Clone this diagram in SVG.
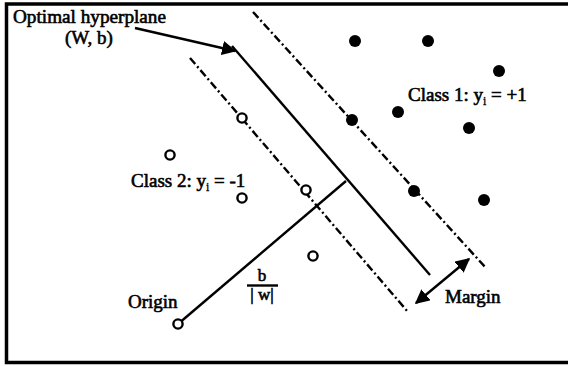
<svg xmlns="http://www.w3.org/2000/svg" width="568" height="366" viewBox="0 0 568 366">
<defs>
<style>
text{font-family:"Liberation Serif","Times New Roman",serif;font-size:19px;fill:#000;stroke:#000;stroke-width:0.6}
.sub{font-size:12px}
.frac{font-size:17px}
.solid{stroke:#000;stroke-width:2.4;fill:none}
.dash{stroke:#000;stroke-width:2.4;fill:none;stroke-dasharray:8 3 2 3}
.c1{fill:#000}
.c2{fill:#fff;stroke:#000;stroke-width:2.4}
</style>
<marker id="ah" viewBox="0 0 10 10" refX="9" refY="5" markerWidth="6" markerHeight="6" markerUnits="strokeWidth" orient="auto-start-reverse">
<path d="M0,0 L10,5 L0,10 z" fill="#000"/>
</marker>
</defs>
<rect x="0" y="0" width="568" height="366" fill="#fff"/>
<rect x="6.5" y="4" width="570" height="358.5" fill="none" stroke="#000" stroke-width="3.5"/>
<g id="connectors">
<line class="dash" x1="253" y1="12" x2="486" y2="268"/>
<line class="dash" x1="190" y1="58" x2="408" y2="312"/>
<line class="solid" x1="232" y1="46" x2="430" y2="275"/>
<line class="solid" x1="178" y1="324" x2="346" y2="181"/>
<line class="solid" x1="135" y1="28" x2="235" y2="51" marker-end="url(#ah)"/>
<line class="solid" x1="416" y1="303" x2="469" y2="259" marker-start="url(#ah)" marker-end="url(#ah)"/>
</g>
<g id="class1">
<circle class="c1" cx="355" cy="41" r="6"/>
<circle class="c1" cx="428" cy="41" r="6"/>
<circle class="c1" cx="499" cy="71" r="6"/>
<circle class="c1" cx="398" cy="112" r="6"/>
<circle class="c1" cx="352" cy="120" r="6"/>
<circle class="c1" cx="469" cy="128" r="6"/>
<circle class="c1" cx="414" cy="191" r="6"/>
<circle class="c1" cx="484" cy="200" r="6"/>
</g>
<g id="class2">
<circle class="c2" cx="242" cy="118" r="4.6"/>
<circle class="c2" cx="170" cy="155" r="4.6"/>
<circle class="c2" cx="242" cy="198" r="4.6"/>
<circle class="c2" cx="306" cy="190" r="4.6"/>
<circle class="c2" cx="313" cy="256" r="4.6"/>
<circle class="c2" cx="178" cy="324" r="4.6"/>
</g>
<g id="labels">
<text x="13" y="23" textLength="153" lengthAdjust="spacingAndGlyphs">Optimal hyperplane</text>
<text x="65" y="44">(W, b)</text>
<text x="408" y="101">Class 1: y<tspan class="sub" dy="4" stroke-width="0.3">i</tspan><tspan dy="-4"> = +1</tspan></text>
<text x="131" y="187">Class 2: y<tspan class="sub" dy="4" stroke-width="0.3">i</tspan><tspan dy="-4"> = -1</tspan></text>
<text x="128" y="308">Origin</text>
<text class="frac" x="262" y="281" text-anchor="middle">b</text>
<line class="solid" x1="247" y1="285.5" x2="278" y2="285.5"/>
<text class="frac" x="262" y="300" text-anchor="middle">| w|</text>
<text x="445" y="303">Margin</text>
</g>
</svg>
